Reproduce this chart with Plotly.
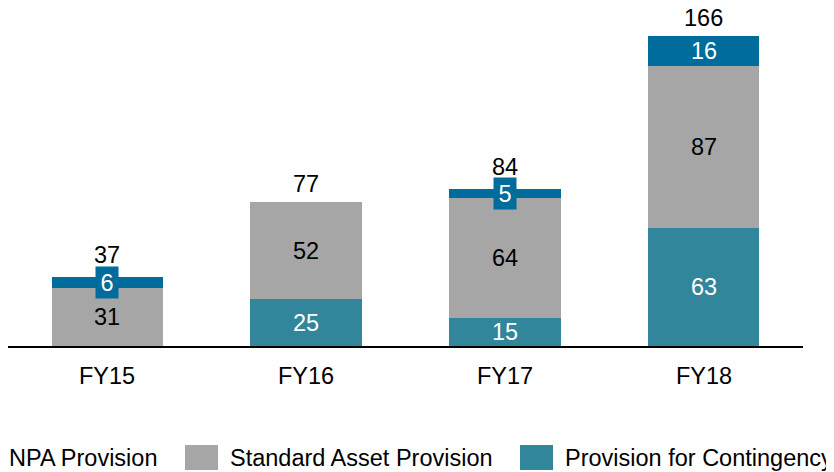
import plotly.graph_objects as go

categories = ["FY15", "FY16", "FY17", "FY18"]
contingency = [0, 25, 15, 63]
standard = [31, 52, 64, 87]
npa = [6, 0, 5, 16]
series_names = ["NPA Provision", "Standard Asset Provision", "Provision for Contingency"]

C_CONT = "#31869B"
C_STD = "#A6A6A6"
C_NPA = "#006C9C"
FONT = "Arial, Liberation Sans, sans-serif"
FS = 23.5

OFF = 8  # page body margin
W, H = 834 - OFF, 472 - OFF
L, T, PW, PH = 0, 11, 795, 327
R, B = W - L - PW, H - T - PH

fig = go.Figure()
for name, vals, col in [(series_names[2], contingency, C_CONT),
                        (series_names[1], standard, C_STD),
                        (series_names[0], npa, C_NPA)]:
    fig.add_trace(go.Bar(x=categories, y=vals, name=name, marker=dict(color=col, line=dict(width=0)),
                         width=0.56, showlegend=False, hoverinfo="skip"))

ann = []
for i, c in enumerate(categories):
    base = 0
    for vals, tc, col in [(contingency, "white", C_CONT), (standard, "black", C_STD), (npa, "white", C_NPA)]:
        v = vals[i]
        if v > 0:
            small = v < 10
            a = dict(x=c, y=base + v / 2, text=str(v), showarrow=False, xanchor="center", yanchor="middle",
                     font=dict(family=FONT, size=FS, color=tc))
            if small:
                a.update(bgcolor=col, borderpad=1, width=20, height=29)
            ann.append(a)
        base += v
    total = contingency[i] + standard[i] + npa[i]
    ys = 22 if 0 < npa[i] < 10 else 18
    ann.append(dict(x=c, y=total, text=str(total), showarrow=False, yanchor="middle", yshift=ys,
                    font=dict(family=FONT, size=FS, color="black")))
    ann.append(dict(x=c, y=0, text=c, showarrow=False, yanchor="middle", yshift=-30,
                    font=dict(family=FONT, size=FS, color="black")))

# manual legend (screen pixel coords converted to paper)
def px2x(p):
    return (p - OFF - L) / PW

def py2y(p):
    return (H - B - (p - OFF)) / PH

shapes = []
leg_x = [-36, 185, 520]
leg_cols = [C_NPA, C_STD, C_CONT]
for name, x0, col in zip(series_names, leg_x, leg_cols):
    shapes.append(dict(type="rect", xref="paper", yref="paper", x0=px2x(x0), x1=px2x(x0 + 33),
                       y0=py2y(470), y1=py2y(445), fillcolor=col, line=dict(width=0), layer="above"))
    ann.append(dict(xref="paper", yref="paper", x=px2x(x0 + 43), y=py2y(458), text=name, showarrow=False,
                    xanchor="left", yanchor="middle", font=dict(family=FONT, size=FS, color="black")))

fig.update_layout(
    width=W, height=H, margin=dict(l=L, r=R, t=T, b=B, pad=0),
    barmode="stack", paper_bgcolor="white", plot_bgcolor="white",
    showlegend=False, annotations=ann, shapes=shapes,
    xaxis=dict(showticklabels=False, ticks="", showgrid=False, showline=True, linecolor="black",
               linewidth=1.5, zeroline=False, range=[-0.5, 3.5]),
    yaxis=dict(visible=False, range=[0, 175], showgrid=False, zeroline=False),
)
fig.write_html("out.html")
